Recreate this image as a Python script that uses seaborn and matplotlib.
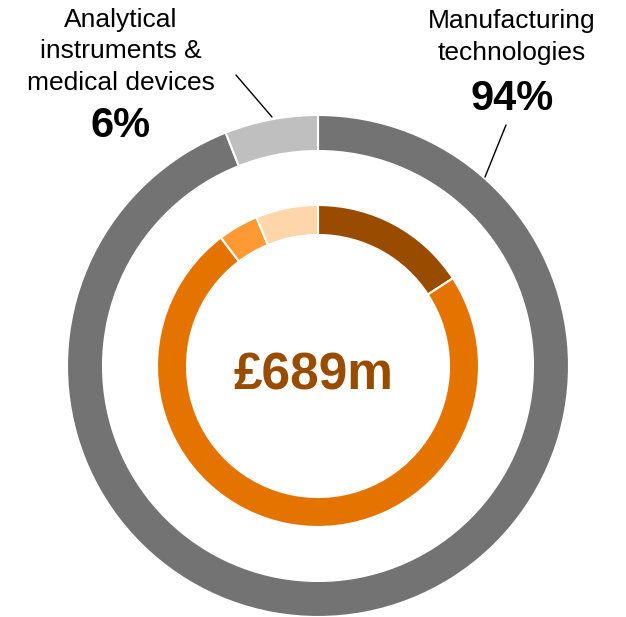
import numpy as np
import seaborn as sns
import matplotlib
matplotlib.use('Agg')
import matplotlib.pyplot as plt

# ---------- data ---------- #
outer_labels = ['Manufacturing\ntechnologies', 'Analytical\ninstruments &\nmedical devices']
outer_share  = [94, 6]                  # %
outer_colors = ['#737373', '#bfbfbf']

inner_values = [109, 509, 28, 43]       # £m, total 689
inner_colors = ['#994c00', '#e57300', '#ff9933', '#ffd5aa']
total_label  = '£689m'

# ---------- style ---------- #
sns.set_theme(style='white')
plt.rcParams['font.family'] = ['Liberation Sans', 'DejaVu Sans']

W, H = 626, 617
cx, cy = 318, H - 366     # pie centre (pixel space, y up)
R_out, w_out = 251, 36
R_in,  w_in  = 161, 30

fig = plt.figure(figsize=(W / 100, H / 100), dpi=100)
ax = fig.add_axes([0, 0, 1, 1])

ax.pie(outer_share, colors=outer_colors, radius=R_out, center=(cx, cy),
       startangle=90, counterclock=False, frame=True,
       wedgeprops=dict(width=w_out, edgecolor='white', linewidth=1.5))
ax.pie(inner_values, colors=inner_colors, radius=R_in, center=(cx, cy),
       startangle=90, counterclock=False, frame=True,
       wedgeprops=dict(width=w_in, edgecolor='white', linewidth=1.5))
ax.set_xlim(0, W)
ax.set_ylim(0, H)
ax.set_aspect('equal')
ax.axis('off')

# centre total
ax.text(313, H - 390, total_label, ha='center', va='baseline',
        fontsize=37, fontweight='bold', color='#994c00')

# labels
def label_block(x, lines, baselines, pct, pct_base):
    for ln, b in zip(lines, baselines):
        ax.text(x, H - b, ln, ha='center', va='baseline', fontsize=19, color='black')
    ax.text(x, H - pct_base, pct, ha='center', va='baseline',
            fontsize=30, fontweight='bold', color='black')

label_block(512, outer_labels[0].split('\n'), [28, 60],
            f'{outer_share[0]}%', 110)
label_block(121, outer_labels[1].split('\n'), [27, 58, 90],
            f'{outer_share[1]}%', 137)

# leader lines
ax.plot([506, 485], [H - 125, H - 177], color='black', lw=1)
ax.plot([236, 272], [H - 75, H - 117], color='black', lw=1)

fig.savefig('out.png', dpi=100, facecolor='white')
